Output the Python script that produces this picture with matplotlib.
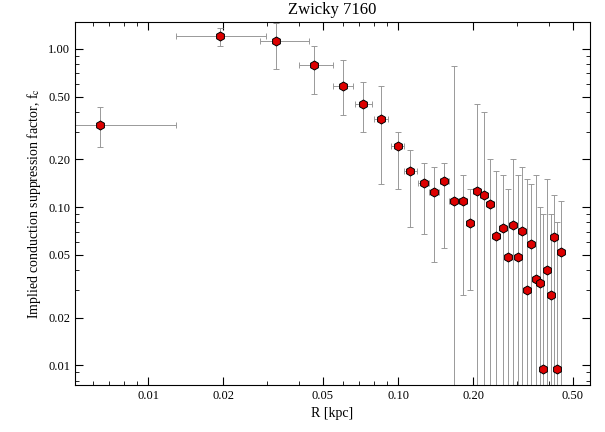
import matplotlib
matplotlib.use("Agg")
import matplotlib.pyplot as plt
import numpy as np
from matplotlib.ticker import FixedLocator

plt.rcParams['mathtext.fontset'] = 'stix'

r = [0.00643,0.0194,0.0325,0.0461,0.060,0.0724,0.0855,0.100,0.112,0.127,0.139,0.153,0.167,0.182,0.194,0.207,0.220,0.234,0.247,0.263,0.275,0.288,0.301,0.313,0.328,0.340,0.356,0.369,0.380,0.394,0.410,0.420,0.432,0.450]
fc = [0.33,1.21,1.12,0.79,0.58,0.45,0.36,0.243,0.17,0.142,0.124,0.146,0.110,0.109,0.079,0.126,0.120,0.104,0.066,0.074,0.048,0.077,0.048,0.071,0.030,0.058,0.035,0.033,0.0095,0.040,0.028,0.065,0.0095,0.052]
r_lo = [0.0045,0.0129,0.0280,0.0400,0.055,0.067,0.080,0.094,0.106,0.120,0.133,0.147,0.160,0.175,0.188,0.200,0.213,0.227,0.241,0.255,0.269,0.282,0.295,0.307,0.320,0.334,0.348,0.362,0.374,0.387,0.402,0.415,0.426,0.440]
r_hi = [0.0129,0.0295,0.0440,0.0550,0.066,0.079,0.091,0.106,0.119,0.133,0.146,0.160,0.175,0.188,0.200,0.213,0.227,0.241,0.255,0.269,0.282,0.295,0.307,0.320,0.334,0.348,0.362,0.374,0.387,0.402,0.415,0.426,0.440,0.455]
fc_lo = [0.24,1.05,0.75,0.52,0.38,0.30,0.14,0.13,0.075,0.068,0.045,0.055,0.001,0.028,0.030,0.001,0.001,0.001,0.001,0.001,0.001,0.001,0.001,0.001,0.001,0.001,0.001,0.001,0.001,0.001,0.001,0.001,0.001,0.001]
fc_hi = [0.43,1.35,1.45,1.05,0.85,0.62,0.58,0.30,0.23,0.19,0.18,0.19,0.78,0.16,0.13,0.45,0.40,0.20,0.17,0.16,0.13,0.20,0.16,0.18,0.15,0.14,0.16,0.10,0.09,0.15,0.09,0.12,0.08,0.11]

fig = plt.figure(figsize=(6.05,4.32), dpi=100)
ax = fig.add_axes([75/605, 1-385/432, 515/605, 363/432])
r=np.array(r); fc=np.array(fc)
xerr=[r-np.array(r_lo), np.array(r_hi)-r]
yerr=[fc-np.array(fc_lo), np.array(fc_hi)-fc]
ax.errorbar(r, fc, xerr=xerr, yerr=yerr, fmt='none', ecolor='#999999', elinewidth=0.7, capsize=2, capthick=0.7)
ax.plot(r, fc, 'h', mfc='#dd0000', mec='black', mew=0.7, ms=6.5)
ax.set_xscale('log'); ax.set_yscale('log')
ax.set_xlim(0.0051,0.586); ax.set_ylim(0.0075,1.48)
xt=[0.01,0.02,0.05,0.10,0.20,0.50]
yt=[0.01,0.02,0.05,0.10,0.20,0.50,1.00]
ax.xaxis.set_major_locator(FixedLocator(xt)); ax.set_xticklabels(['0.01','0.02','0.05','0.10','0.20','0.50'])
ax.yaxis.set_major_locator(FixedLocator(yt)); ax.set_yticklabels(['0.01','0.02','0.05','0.10','0.20','0.50','1.00'])
ax.tick_params(which='both', direction='in', top=True, right=True, labelsize=9)
ax.tick_params(which='major', length=6)
ax.tick_params(which='minor', length=3)
ax.set_xlabel('R [kpc]', family='Liberation Serif', fontsize=10)
ax.set_ylabel('Implied conduction suppression factor, f$_{\\rm c}$', family='Liberation Serif', fontsize=10)
ax.set_title('Zwicky 7160', family='Liberation Serif', fontsize=12)
for l in ax.get_xticklabels()+ax.get_yticklabels(): l.set_family('Liberation Serif')
fig.savefig('out.png', dpi=100)
